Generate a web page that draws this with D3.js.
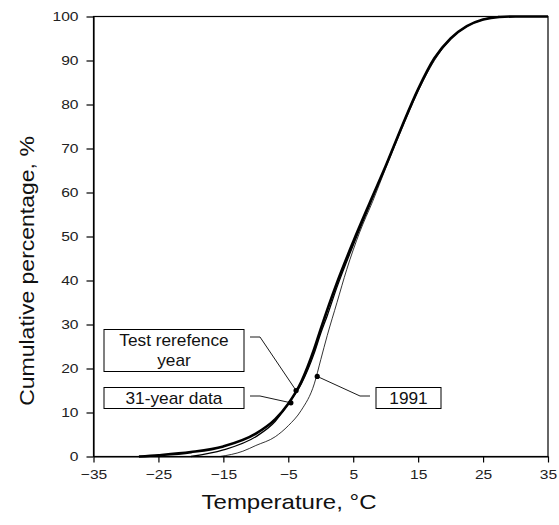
<!DOCTYPE html>
<html>
<head>
<meta charset="utf-8">
<script src="https://cdn.jsdelivr.net/npm/d3@7/dist/d3.min.js"></script>
<style>
  html, body { margin: 0; padding: 0; background: #fff; }
  svg { display: block; font-family: "Liberation Sans", Arial, sans-serif; }
</style>
</head>
<body>
<svg id="chart" width="559" height="525"></svg>
<script>
// ---- data ----
const temps31 = [-28, -25, -20, -15, -10, -7, -5, -3, -1, 0, 2.5, 5, 7.5, 10, 12.5, 15, 17.5, 20, 22.5, 25, 27.5, 30, 35];
const cum31   = [0, 0.3, 1, 2.3, 5.2, 8.5, 12, 17, 24.5, 29, 39.5, 48.8, 57.5, 66, 75, 83.5, 90.5, 95, 97.8, 99.3, 99.9, 100, 100];

const tempsTRY = [-20, -15, -10, -7, -5, -3, -1, 0, 1, 2.5, 5, 7.5, 10, 12.5, 15, 17.5, 20, 22.5, 25, 27.5];
const cumTRY   = [0, 1.5, 4.5, 8, 12, 16.5, 23.5, 28, 32, 38.5, 48, 57, 66, 75, 83.5, 90.5, 95, 97.8, 99.3, 100];

const temps1991 = [-15.5, -12, -10, -7, -5, -3, -1, 0, 1, 2.5, 4, 6, 8, 10, 12.5, 15, 17.5, 20, 22.5, 25, 28];
const cum1991   = [0, 1.2, 2.5, 4.5, 7, 10.5, 16.5, 22, 27.5, 35, 42.5, 51, 58, 65.5, 74.5, 83, 90, 94.8, 97.8, 99.3, 100];

const xTicks = [-35, -25, -15, -5, 5, 15, 25, 35];
const yTicks = [0, 10, 20, 30, 40, 50, 60, 70, 80, 90, 100];

// annotation labels: text lines and the point on the curve they refer to
const labelNames  = ["Test rerefence|year", "31-year data", "1991"];
const labelTemps  = [-3.8, -4.6, -0.54];
const labelCums   = [15.0, 12.2, 18.2];

// ---- layout ----
const svg = d3.select("#chart");
const x = d3.scaleLinear().domain([-35, 35]).range([93.5, 548]);
const y = d3.scaleLinear().domain([0, 100]).range([456.5, 16.5]);

// horizontally stretch text (the reference's type is wider than the font)
function stretch(sel, s) {
  sel.each(function () {
    const t = d3.select(this);
    const tx = +t.attr("x") || 0, ty = +t.attr("y") || 0;
    t.attr("x", 0).attr("y", 0).attr("transform", `translate(${tx},${ty}) scale(${s},1)`);
  });
}

// frame
svg.append("rect")
  .attr("x", x(-35)).attr("y", y(100))
  .attr("width", x(35) - x(-35)).attr("height", y(0) - y(100))
  .attr("fill", "none").attr("stroke", "#000").attr("stroke-width", 1.2);

// axes
const xAxis = d3.axisBottom(x).tickValues(xTicks).tickSize(6).tickSizeOuter(0)
  .tickFormat(d => d < 0 ? "\u2212" + Math.abs(d) : String(d));
const gx = svg.append("g").attr("transform", `translate(0,${y(0)})`).call(xAxis);
gx.select(".domain").attr("stroke-width", 1.2);
gx.selectAll(".tick line").attr("stroke-width", 1.2);
gx.selectAll(".tick text").attr("font-size", 13).attr("font-family", "Liberation Sans, Arial, sans-serif")
  .attr("y", 13).attr("dy", "0.71em").attr("fill", "#222");
stretch(gx.selectAll(".tick text"), 1.2);

const yAxis = d3.axisLeft(y).tickValues(yTicks).tickSize(7).tickSizeOuter(0);
const gy = svg.append("g").attr("transform", `translate(${x(-35)},0)`).call(yAxis);
gy.select(".domain").attr("stroke-width", 1.2);
gy.selectAll(".tick line").attr("stroke-width", 1.2);
gy.selectAll(".tick text").attr("font-size", 13).attr("font-family", "Liberation Sans, Arial, sans-serif")
  .attr("x", -15).attr("fill", "#222");
stretch(gy.selectAll(".tick text"), 1.2);

// axis titles
svg.append("text").attr("x", 289).attr("y", 509).attr("text-anchor", "middle")
  .attr("font-size", 20).attr("fill", "#111").text("Temperature, \u00B0C")
  .call(s => stretch(s, 1.2));
svg.append("text").attr("transform", "translate(34,271) rotate(-90) scale(1.15,1)").attr("text-anchor", "middle")
  .attr("font-size", 20).attr("fill", "#111").text("Cumulative percentage, %");

// curves
const line = d3.line().x(d => x(d[0])).y(d => y(d[1])).curve(d3.curveMonotoneX);
const series = [
  { t: temps1991, c: cum1991, w: 0.8 },
  { t: tempsTRY,  c: cumTRY,  w: 1.3 },
  { t: temps31,   c: cum31,   w: 2.6 }
];
series.forEach(s => {
  svg.append("path")
    .datum(s.t.map((t, i) => [t, s.c[i]]))
    .attr("d", line)
    .attr("fill", "none").attr("stroke", "#000").attr("stroke-width", s.w)
    .attr("stroke-linejoin", "round");
});

// annotations
const boxes = [
  { x0: 104, y0: 329.5, w: 140, h: 42, side: "right", ly: 337 },
  { x0: 104, y0: 387.5, w: 140, h: 21, side: "right", ly: 396 },
  { x0: 376, y0: 387.5, w: 65,  h: 21, side: "left",  ly: 396 }
];
labelNames.forEach((name, i) => {
  const b = boxes[i];
  const px = x(labelTemps[i]), py = y(labelCums[i]);
  svg.append("rect").attr("x", b.x0).attr("y", b.y0).attr("width", b.w).attr("height", b.h)
    .attr("fill", "#fff").attr("stroke", "#000").attr("stroke-width", 1);
  const lines = name.split("|");
  lines.forEach((ln, j) => {
    svg.append("text").attr("x", b.x0 + b.w / 2)
      .attr("y", b.y0 + 16.5 + j * 20)
      .attr("text-anchor", "middle").attr("font-size", 16).attr("fill", "#111").text(ln)
      .call(s => stretch(s, 1.08));
  });
  const sx = b.side === "right" ? b.x0 + b.w + 6 : b.x0 - 6;
  const kx = b.side === "right" ? sx + 10 : sx - 10;
  svg.append("polyline")
    .attr("points", `${sx},${b.ly} ${kx},${b.ly} ${px},${py}`)
    .attr("fill", "none").attr("stroke", "#000").attr("stroke-width", 0.9);
  svg.append("circle").attr("cx", px).attr("cy", py).attr("r", 2.6).attr("fill", "#000");
});
</script>
</body>
</html>
